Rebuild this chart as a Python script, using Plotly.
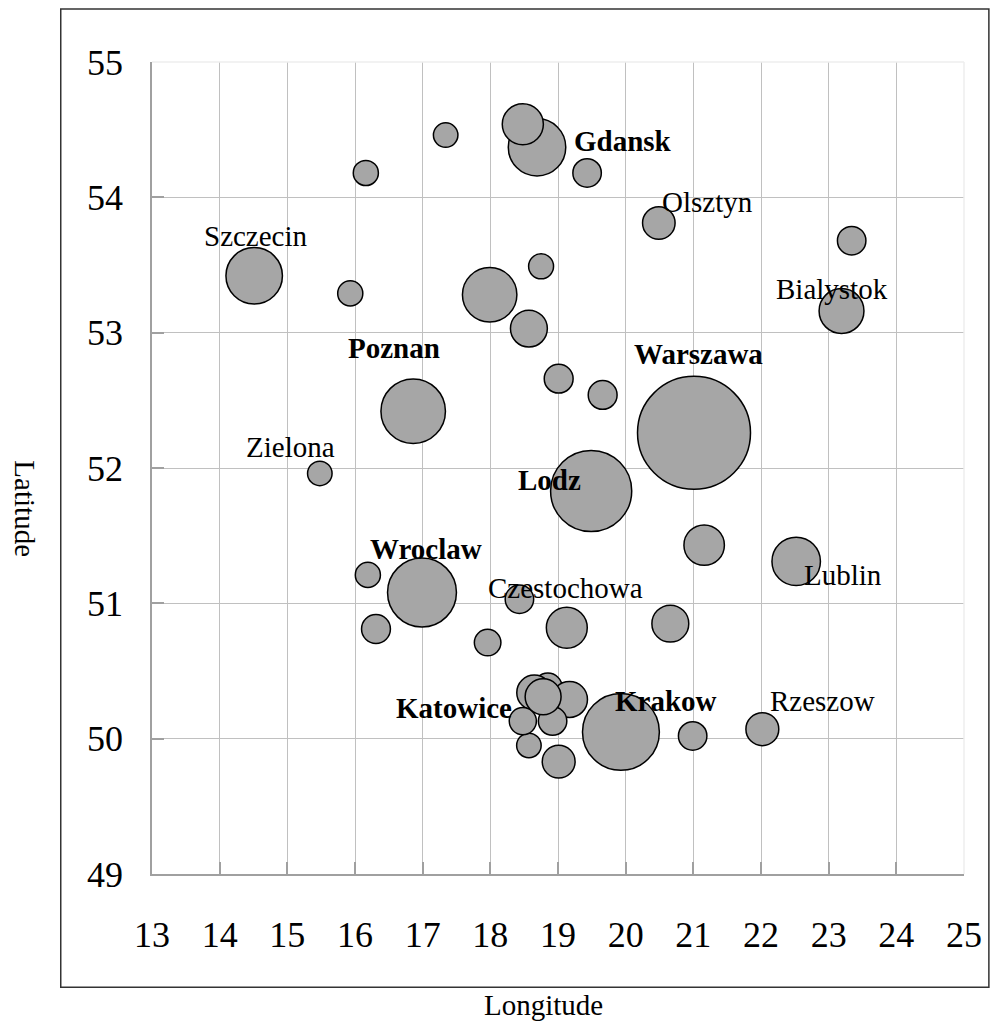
import plotly.graph_objects as go

# ---------------- data ----------------
lon = [14.51, 16.16, 17.34, 15.93, 17.99, 16.86, 15.48, 18.69, 18.48, 19.43,
       20.49, 23.34, 23.19, 18.75, 18.57, 19.01, 19.66, 21.01, 19.49, 21.16,
       22.52, 18.43, 19.13, 20.66, 19.93, 20.99, 22.02, 18.57, 19.01, 18.85,
       18.65, 19.17, 18.92, 18.48, 18.78, 16.99, 16.19, 16.31, 17.96]
lat = [53.42, 54.18, 54.46, 53.29, 53.28, 52.42, 51.96, 54.37, 54.54, 54.18,
       53.81, 53.68, 53.16, 53.49, 53.03, 52.66, 52.54, 52.26, 51.83, 51.43,
       51.31, 51.03, 50.82, 50.85, 50.05, 50.02, 50.07, 49.95, 49.83, 50.38,
       50.34, 50.29, 50.13, 50.13, 50.31, 51.08, 51.21, 50.81, 50.71]
value = [425, 84, 80, 84, 395, 554, 80, 440, 225, 108,
         141, 108, 268, 83, 181, 111, 111, 1700, 876, 218,
         313, 108, 223, 181, 787, 108, 144, 80, 144, 108,
         164, 172, 108, 98, 172, 632, 84, 111, 94]

# labels: (text, index of bubble it belongs to, bold)
label_text = ["Szczecin", "Zielona", "Poznan", "Gdansk", "Olsztyn", "Bialystok",
              "Warszawa", "Lodz", "Wroclaw", "Czestochowa", "Lublin",
              "Katowice", "Krakow", "Rzeszow"]
label_of = [0, 6, 5, 7, 10, 12, 17, 18, 35, 21, 20, 34, 24, 26]
label_bold = [False, False, True, True, False, False, True, True, True,
              False, False, True, True, False]
# label offsets from bubble centre, in pixels (right, down)
label_dx = [1.5, -29, -19, 86, 49, -10, 4, -41.6, 3.7, 45.7, 47, -89, 45, 60]
label_dy = [-40, -26, -63, -6, -21, -22, -79, -11.5, -43.7, -11, 14, 11, -31, -28]

x_ticks = list(range(13, 26))
y_ticks = list(range(49, 56))

# ---------------- layout geometry ----------------
OFF = 8                      # page body margin of the html page
W, H = 1002 - 2 * OFF, 1023 - OFF
L, T = 144, 54
pw, ph = 816, 812
R, B = W - L - pw, H - T - ph
FONT = "Liberation Serif"

def px2paper_x(px):
    return (px - OFF - L) / pw

def px2paper_y(py):
    return (H - B - (py - OFF)) / ph

max_d = 113.0
sizeref = 2.0 * max(value) / (max_d ** 2)

fig = go.Figure()
fig.add_trace(go.Scatter(
    x=lon, y=lat, mode="markers",
    marker=dict(size=value, sizemode="area", sizeref=sizeref,
                color="#a6a6a6", opacity=1,
                line=dict(color="black", width=1.5)),
    hoverinfo="skip", showlegend=False,
))

annotations = []
for t, i, b, dx, dy in zip(label_text, label_of, label_bold, label_dx, label_dy):
    annotations.append(dict(
        x=lon[i], y=lat[i], xref="x", yref="y",
        text=f"<b>{t}</b>" if b else t,
        showarrow=False, xanchor="center", yanchor="middle",
        xshift=dx, yshift=-dy,
        font=dict(family=FONT, size=29, color="black"),
    ))

# axis titles
annotations.append(dict(
    x=px2paper_x(545), y=px2paper_y(1005), xref="paper", yref="paper",
    text="Longitude", showarrow=False, xanchor="center", yanchor="middle",
    font=dict(family=FONT, size=29, color="black")))
annotations.append(dict(
    x=px2paper_x(24), y=px2paper_y(509), xref="paper", yref="paper",
    text="Latitude", showarrow=False, xanchor="center", yanchor="middle",
    textangle=90, font=dict(family=FONT, size=29, color="black")))

shapes = [
    # outer frame
    dict(type="rect", xref="paper", yref="paper",
         x0=px2paper_x(60.3), x1=px2paper_x(OFF + W - 1),
         y0=px2paper_y(987.3), y1=px2paper_y(OFF + 1),
         line=dict(color="#333333", width=1.5), fillcolor="rgba(0,0,0,0)",
         layer="above"),
    # light top and right edges of plot area
    dict(type="line", xref="paper", yref="paper", x0=0, x1=1, y0=1, y1=1,
         line=dict(color="#eeeeee", width=1.5), layer="above"),
    dict(type="line", xref="paper", yref="paper", x0=1, x1=1, y0=0, y1=1,
         line=dict(color="#eeeeee", width=1.5), layer="above"),
]

axis_common = dict(
    showgrid=True, gridcolor="#c0c0c0", gridwidth=1,
    zeroline=False, showline=True, linecolor="#a0a0a0", linewidth=1.5,
    ticks="inside", ticklen=12, tickcolor="#a0a0a0", tickwidth=1.5,
    tickfont=dict(family=FONT, size=36, color="black"),
    fixedrange=True,
)

fig.update_layout(
    width=W, height=H,
    margin=dict(l=L, r=R, t=T, b=B, pad=0),
    paper_bgcolor="white", plot_bgcolor="white",
    xaxis=dict(range=[13, 25], tickvals=x_ticks, ticktext=[str(v) for v in x_ticks],
               ticklabelstandoff=28, **axis_common),
    yaxis=dict(range=[49, 55], tickvals=y_ticks, ticktext=[str(v) for v in y_ticks],
               ticklabelstandoff=20, **axis_common),
    annotations=annotations, shapes=shapes,
    font=dict(family=FONT),
)

fig.write_html("out.html")
